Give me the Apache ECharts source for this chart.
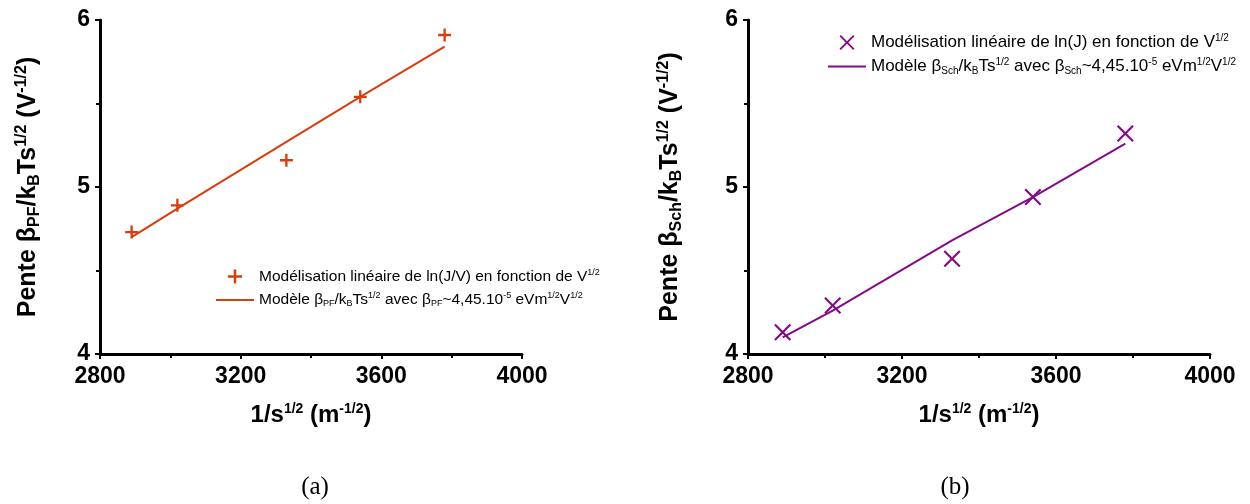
<!DOCTYPE html>
<html>
<head>
<meta charset="utf-8">
<script src="https://cdn.jsdelivr.net/npm/echarts@6/dist/echarts.min.js"></script>
<style>
html,body{margin:0;padding:0;background:#fff;}
#c{width:1250px;height:504px;}
</style>
</head>
<body>
<div id="c"></div>
<script>
// ---- data ----
const xValues = [2890, 3020, 3330, 3540, 3780];
const pfPoints = [4.73, 4.89, 5.16, 5.54, 5.91];
const pfModel = [4.70, 4.87, 5.27, 5.54, 5.84];
const schPoints = [4.13, 4.29, 4.57, 4.94, 5.32];
const schModel = [4.10, 4.26, 4.68, 4.94, 5.26];
const xTicks = [2800, 3200, 3600, 4000];
const yTicks = [4, 5, 6];

const pair = (xs, ys) => xs.map((x, i) => [x, ys[i]]);

const FONT = '"Liberation Sans", Arial, sans-serif';
const ORANGE = '#D63E0E';
const PURPLE = '#850A85';

const plusPath = 'path://M4.1,0H5.9V4.1H10V5.9H5.9V10H4.1V5.9H0V4.1H4.1Z';
const t = 0.9;
const xPath = `path://M0,${t}L${t},0L5,${5 - t}L${10 - t},0L10,${t}L${5 + t},5L10,${10 - t}L${10 - t},10L5,${5 + t}L${t},10L0,${10 - t}L${5 - t},5Z`;
const linePath = 'path://M0,0H38V2H0Z';

function mkRich(main, small, shift, bold) {
  const w = bold ? 'bold' : 'normal';
  return {
    b: { fontFamily: FONT, fontWeight: w, fontSize: main, color: '#000' },
    n: { fontFamily: FONT, fontWeight: w, fontSize: main, color: '#000' },
    sup: { fontFamily: FONT, fontWeight: w, fontSize: small, color: '#000', padding: [0, 0, shift, 0] },
    sub: { fontFamily: FONT, fontWeight: w, fontSize: small, color: '#000', padding: [shift, 0, 0, 0] }
  };
}
const yRich = mkRich(25, 16, 13, true);
const xRich = mkRich(24, 14, 13, true);

function xAxisCfg(gridIndex) {
  return {
    gridIndex, type: 'value', min: 2800, max: 4000, interval: 400,
    name: '{b|1/s}{sup|1/2}{b| (m}{sup|-1/2}{b|)}',
    nameLocation: 'middle', nameGap: 48,
    nameTextStyle: { rich: xRich },
    axisLine: { lineStyle: { color: '#000', width: 3 } },
    axisTick: { length: 5, lineStyle: { color: '#000', width: 2 } },
    minorTick: { show: true, splitNumber: 2, length: 4, lineStyle: { color: '#000', width: 2 } },
    splitLine: { show: false },
    axisLabel: { fontFamily: FONT, fontWeight: 'bold', fontSize: 23, color: '#000', margin: 11,
      formatter: v => xTicks.includes(v) ? String(v) : '' }
  };
}
function yAxisCfg(gridIndex, subName, gap) {
  return {
    gridIndex, type: 'value', min: 4, max: 6, interval: 1,
    name: `{b|Pente β}{sub|${subName}}{b|/k}{sub|B}{b|Ts}{sup|1/2}{b| (V}{sup|-1/2}{b|)}`,
    nameLocation: 'middle', nameRotate: 90, nameGap: gap,
    nameTextStyle: { rich: yRich },
    axisLine: { lineStyle: { color: '#000', width: 3 } },
    axisTick: { length: 5, lineStyle: { color: '#000', width: 2 } },
    minorTick: { show: true, splitNumber: 2, length: 4, lineStyle: { color: '#000', width: 2 } },
    splitLine: { show: false },
    axisLabel: { fontFamily: FONT, fontWeight: 'bold', fontSize: 23, color: '#000', margin: 10,
      formatter: v => yTicks.includes(v) ? String(v) : '' }
  };
}

const legendText = {
  pfPts: '{n|Modélisation linéaire de ln(J/V) en fonction de V}{sup|1/2}',
  pfMod: '{n|Modèle β}{sub|PF}{n|/k}{sub|B}{n|Ts}{sup|1/2}{n| avec β}{sub|PF}{n|~4,45.10}{sup|-5}{n| eVm}{sup|1/2}{n|V}{sup|1/2}',
  schPts: '{n|Modélisation linéaire de ln(J) en fonction de V}{sup|1/2}',
  schMod: '{n|Modèle β}{sub|Sch}{n|/k}{sub|B}{n|Ts}{sup|1/2}{n| avec β}{sub|Sch}{n|~4,45.10}{sup|-5}{n| eVm}{sup|1/2}{n|V}{sup|1/2}'
};

const chart = echarts.init(document.getElementById('c'), null, { renderer: 'canvas' });
chart.setOption({
  backgroundColor: '#fff',
  animation: false,
  grid: [
    { left: 100, top: 20, width: 422, height: 334 },
    { left: 748, top: 20, width: 462, height: 334 }
  ],
  xAxis: [xAxisCfg(0), xAxisCfg(1)],
  yAxis: [yAxisCfg(0, 'PF', 57), yAxisCfg(1, 'Sch', 63)],
  title: [
    { text: '(a)', left: 310, top: 470, textAlign: 'center',
      textStyle: { fontFamily: '"Liberation Serif", "Times New Roman", serif', fontWeight: 'normal', fontSize: 25, color: '#000' } },
    { text: '(b)', left: 950, top: 470, textAlign: 'center',
      textStyle: { fontFamily: '"Liberation Serif", "Times New Roman", serif', fontWeight: 'normal', fontSize: 25, color: '#000' } }
  ],
  legend: [
    { orient: 'vertical', left: 216, top: 268, padding: 0, itemWidth: 38, itemHeight: 14, itemGap: 7,
      data: [
        { name: 'pfPts', icon: plusPath, itemStyle: { color: ORANGE } },
        { name: 'pfMod', icon: linePath, itemStyle: { color: ORANGE } }
      ],
      formatter: n => legendText[n],
      textStyle: { rich: mkRich(15.5, 9, 8, false) }
    },
    { orient: 'vertical', left: 828, top: 33, padding: 0, itemWidth: 38, itemHeight: 15, itemGap: 6,
      data: [
        { name: 'schPts', icon: xPath, itemStyle: { color: PURPLE } },
        { name: 'schMod', icon: linePath, itemStyle: { color: PURPLE } }
      ],
      formatter: n => legendText[n],
      textStyle: { rich: mkRich(17, 10, 9, false) }
    }
  ],
  series: [
    { name: 'pfMod', type: 'line', xAxisIndex: 0, yAxisIndex: 0, data: pair(xValues, pfModel),
      symbol: 'none', lineStyle: { color: ORANGE, width: 2 }, itemStyle: { color: ORANGE } },
    { name: 'pfPts', type: 'scatter', xAxisIndex: 0, yAxisIndex: 0, data: pair(xValues, pfPoints),
      symbol: plusPath, symbolSize: 13, itemStyle: { color: ORANGE, opacity: 1 } },
    { name: 'schMod', type: 'line', xAxisIndex: 1, yAxisIndex: 1, data: pair(xValues, schModel),
      symbol: 'none', lineStyle: { color: PURPLE, width: 2 }, itemStyle: { color: PURPLE } },
    { name: 'schPts', type: 'scatter', xAxisIndex: 1, yAxisIndex: 1, data: pair(xValues, schPoints),
      symbol: xPath, symbolSize: 17, itemStyle: { color: PURPLE, opacity: 1 } }
  ]
});
</script>
</body>
</html>
